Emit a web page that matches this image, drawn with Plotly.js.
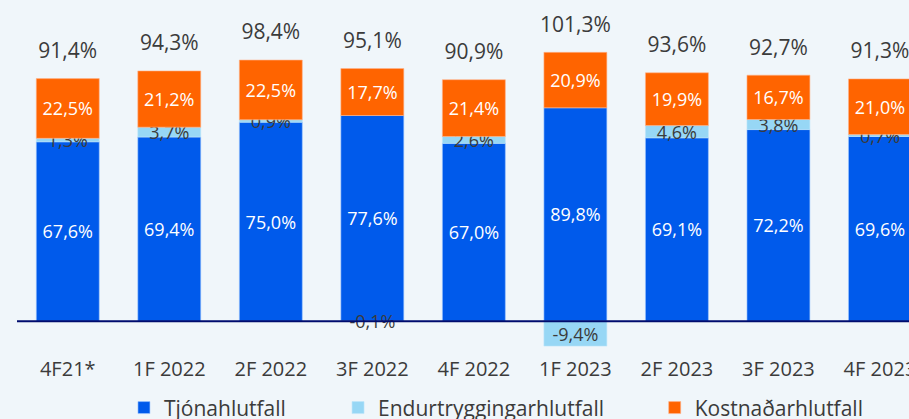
<!DOCTYPE html>
<html><head><meta charset="utf-8">
<script src="https://cdn.plot.ly/plotly-3.0.1.min.js"></script>
<style>html,body{margin:0;padding:0;overflow:hidden;background:#F0F6FA;}</style>
</head><body><div id="chart" style="width:909px;height:419px;"></div>
<script>
const categories = ['4F21*','1F 2022','2F 2022','3F 2022','4F 2022','1F 2023','2F 2023','3F 2023','4F 2023'];
const tjonahlutfall = [67.6,69.4,75.0,77.6,67.0,89.8,69.1,72.2,69.6];
const endurtryggingarhlutfall = [1.3,3.7,0.9,-0.1,2.6,-9.4,4.6,3.8,0.7];
const kostnadarhlutfall = [22.5,21.2,22.5,17.7,21.4,20.9,19.9,16.7,21.0];
const samsett = [91.4,94.3,98.4,95.1,90.9,101.3,93.6,92.7,91.3];
const seriesNames = ['Tjónahlutfall','Endurtryggingarhlutfall','Kostnaðarhlutfall'];

const fmt = v => v.toFixed(1).replace('.', ',') + '%';
const TXT = '#3b3b3b';
const FONT = 'Open Sans';
// drawn height of claims bar is net of negative reinsurance ratio (as in reference)
const tjonDrawn = tjonahlutfall.map((v,i)=> v + Math.min(endurtryggingarhlutfall[i],0));

const common = {type:'bar', x:categories, textposition:'inside', insidetextanchor:'middle',
  textangle:0, constraintext:'none', hoverinfo:'skip', cliponaxis:true};

const traces = [
  Object.assign({}, common, {name:seriesNames[0], y:tjonDrawn, text:tjonahlutfall.map(fmt),
    marker:{color:'#005AEB', line:{color:'rgba(160,200,255,0.6)', width:1}},
    insidetextfont:{color:'#ffffff', size:18, family:FONT}, legend:'legend'}),
  Object.assign({}, common, {name:seriesNames[1], y:endurtryggingarhlutfall, text:endurtryggingarhlutfall.map(fmt),
    marker:{color:'#97D7F5', line:{color:'rgba(190,230,250,0.6)', width:1}},
    insidetextfont:{color:TXT, size:18, family:FONT}, legend:'legend2'}),
  Object.assign({}, common, {name:seriesNames[2], y:kostnadarhlutfall, text:kostnadarhlutfall.map(fmt),
    marker:{color:'#FF6400', line:{color:'rgba(255,180,140,0.6)', width:1}},
    insidetextfont:{color:'#ffffff', size:18, family:FONT}, legend:'legend3'}),
  {type:'scatter', mode:'markers+text', x:categories, y:samsett, text:samsett.map(fmt),
    textposition:'top center', textfont:{size:21, color:TXT, family:FONT},
    marker:{size:23, color:'rgba(0,0,0,0)'}, showlegend:false, hoverinfo:'skip', cliponaxis:false}
];

const legBase = {orientation:'h', y:-0.163, yanchor:'middle', xanchor:'left', indentation:-9,
  bgcolor:'rgba(0,0,0,0)', font:{size:21, color:TXT, family:FONT}};

const layout = {
  width:909, height:419,
  margin:{l:17, r:0, t:16, b:66, autoexpand:false},
  paper_bgcolor:'#F0F6FA', plot_bgcolor:'#F0F6FA',
  font:{family:FONT, color:TXT},
  barmode:'relative', bargap:0.38,
  xaxis:{type:'category', range:[-0.5, 8.286], showgrid:false, showline:false, zeroline:false, ticks:'',
    tickfont:{size:20, color:TXT, family:FONT}, ticklabelstandoff:2, fixedrange:true},
  yaxis:{range:[-12,115], showgrid:false, zeroline:false, showticklabels:false, ticks:'', fixedrange:true},
  shapes:[{type:'line', xref:'paper', x0:0, x1:1, yref:'y', y0:0, y1:0,
    line:{color:'#000C6E', width:2}, layer:'above'}],
  legend:Object.assign({}, legBase, {x:0.1300}),
  legend2:Object.assign({}, legBase, {x:0.3700}),
  legend3:Object.assign({}, legBase, {x:0.7250}),
  showlegend:true
};
Plotly.newPlot('chart', traces, layout, {displayModeBar:false, staticPlot:true});
</script></body></html>
